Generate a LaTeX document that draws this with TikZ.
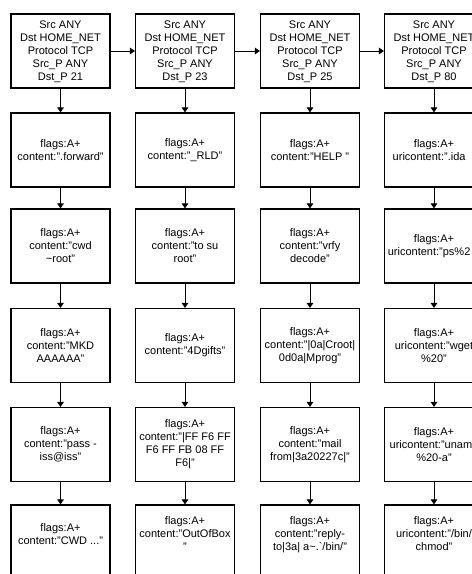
\documentclass[tikz,border=0pt]{standalone}
\usepackage{fontspec}
\setmainfont{Liberation Sans}
\usetikzlibrary{arrows.meta}
\tikzset{
  Rbox/.style={draw, line width=1.1pt, fill=white, align=center,
               font=\fontsize{11}{13}\selectfont,
               minimum width=99pt, minimum height=74pt, inner sep=2pt},
  Hrow/.style={text depth=-3pt},
  Lrow/.style={text depth=16pt},
  Narr/.style={-{Triangle[length=5pt,width=6.5pt]}, line width=1pt}
}
\newcommand{\wideln}[1]{\makebox[90pt]{#1}}

\begin{document}
\begin{tikzpicture}[x=1pt,y=-1pt]
  \useasboundingbox (0,0) rectangle (472,574);
  \clip (0,0) rectangle (472,574);

  % port 21
  \node[Rbox, Hrow] (ftp0) at (60.5,51)
    {Src ANY\\Dst HOME\_NET\\Protocol TCP\\Src\_P ANY\\Dst\_P 21};
  \node[Rbox] (ftp1) at (60.5,150) {flags:A+\\content:".forward"};
  \node[Rbox] (ftp2) at (60.5,246) {flags:A+\\content:"cwd\\\textasciitilde root"};
  \node[Rbox] (ftp3) at (60.5,345.5) {flags:A+\\content:"MKD\\AAAAAA"};
  \node[Rbox] (ftp4) at (60.5,444.5) {flags:A+\\content:"pass -\\iss@iss"};
  \node[Rbox, Lrow] (ftp5) at (60.5,542) {flags:A+\\content:"CWD ..."};

  % port 23
  \node[Rbox, Hrow] (tel0) at (185,51)
    {Src ANY\\Dst HOME\_NET\\Protocol TCP\\Src\_P ANY\\Dst\_P 23};
  \node[Rbox] (tel1) at (185,150) {flags:A+\\content:"\_RLD"};
  \node[Rbox] (tel2) at (185,246) {flags:A+\\content:"to su\\root"};
  \node[Rbox] (tel3) at (185,345.5) {flags:A+\\content:"4Dgifts"};
  \node[Rbox] (tel4) at (185,444.5)
    {flags:A+\\content:"|FF F6 FF\\F6 FF FB 08 FF\\F6|"};
  \node[Rbox, Lrow] (tel5) at (185,542) {flags:A+\\content:"OutOfBox\\"};

  % port 25
  \node[Rbox, Hrow] (smtp0) at (310,51)
    {Src ANY\\Dst HOME\_NET\\Protocol TCP\\Src\_P ANY\\Dst\_P 25};
  \node[Rbox] (smtp1) at (310,150) {flags:A+\\content:"HELP "};
  \node[Rbox] (smtp2) at (310,246) {flags:A+\\content:"vrfy\\decode"};
  \node[Rbox] (smtp3) at (310,345.5) {flags:A+\\content:"|0a|Croot|\\0d0a|Mprog"};
  \node[Rbox] (smtp4) at (310,444.5) {flags:A+\\content:"mail\\from|3a20227c|"};
  \node[Rbox, Lrow] (smtp5) at (310,542)
    {flags:A+\\content:"reply-\\to|3a| a\textasciitilde.\textasciigrave/bin/"};

  % port 80
  \node[Rbox, Hrow] (web0) at (434,51)
    {Src ANY\\Dst HOME\_NET\\Protocol TCP\\Src\_P ANY\\Dst\_P 80};
  \node[Rbox] (web1) at (434,150) {flags:A+\\\wideln{uricontent:".ida\phantom{?"}}};
  \node[Rbox] (web2) at (434,246) {flags:A+\\\wideln{uricontent:"ps\%2\phantom{0"}}};
  \node[Rbox] (web3) at (434,345.5) {flags:A+\\\wideln{uricontent:"wget}\\\%20"};
  \node[Rbox] (web4) at (434,444.5) {flags:A+\\\wideln{uricontent:"unam\phantom{e}}\\\%20-a"};
  \node[Rbox, Lrow] (web5) at (434,542) {flags:A+\\\wideln{uricontent:"/bin/}\\chmod"};

  \draw[Narr] (ftp0)--(tel0);
  \draw[Narr] (tel0)--(smtp0);
  \draw[Narr] (smtp0)--(web0);

  \draw[Narr] (ftp0)--(ftp1);
  \draw[Narr] (ftp1)--(ftp2);
  \draw[Narr] (ftp2)--(ftp3);
  \draw[Narr] (ftp3)--(ftp4);
  \draw[Narr] (ftp4)--(ftp5);
  \draw[Narr] (tel0)--(tel1);
  \draw[Narr] (tel1)--(tel2);
  \draw[Narr] (tel2)--(tel3);
  \draw[Narr] (tel3)--(tel4);
  \draw[Narr] (tel4)--(tel5);
  \draw[Narr] (smtp0)--(smtp1);
  \draw[Narr] (smtp1)--(smtp2);
  \draw[Narr] (smtp2)--(smtp3);
  \draw[Narr] (smtp3)--(smtp4);
  \draw[Narr] (smtp4)--(smtp5);
  \draw[Narr] (web0)--(web1);
  \draw[Narr] (web1)--(web2);
  \draw[Narr] (web2)--(web3);
  \draw[Narr] (web3)--(web4);
  \draw[Narr] (web4)--(web5);
\end{tikzpicture}
\end{document}
